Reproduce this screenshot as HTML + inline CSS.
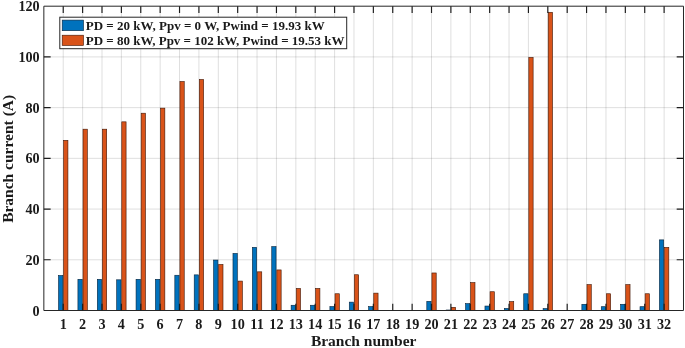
<!DOCTYPE html><html><head><meta charset="utf-8"><title>Branch current</title><style>html,body{margin:0;padding:0;background:#fff}svg{display:block}text{font-family:"Liberation Serif","Times New Roman",serif;font-weight:bold;fill:#1a1a1a}</style></head><body>
<svg width="685" height="348" viewBox="0 0 685 348">
<rect width="685" height="348" fill="#fff"/>
<path d="M63.23 6.20V310.50M82.62 6.20V310.50M102.00 6.20V310.50M121.38 6.20V310.50M140.76 6.20V310.50M160.15 6.20V310.50M179.53 6.20V310.50M198.91 6.20V310.50M218.30 6.20V310.50M237.68 6.20V310.50M257.06 6.20V310.50M276.45 6.20V310.50M295.83 6.20V310.50M315.21 6.20V310.50M334.60 6.20V310.50M353.98 6.20V310.50M373.36 6.20V310.50M392.74 6.20V310.50M412.13 6.20V310.50M431.51 6.20V310.50M450.89 6.20V310.50M470.28 6.20V310.50M489.66 6.20V310.50M509.04 6.20V310.50M528.42 6.20V310.50M547.81 6.20V310.50M567.19 6.20V310.50M586.57 6.20V310.50M605.96 6.20V310.50M625.34 6.20V310.50M644.72 6.20V310.50M664.11 6.20V310.50" stroke="#262626" stroke-opacity="0.15" stroke-width="1" fill="none"/>
<path d="M43.85 259.78H683.49M43.85 209.07H683.49M43.85 158.35H683.49M43.85 107.64H683.49M43.85 56.92H683.49" stroke="#262626" stroke-opacity="0.15" stroke-width="1" fill="none"/>
<rect x="58.53" y="275.51" width="4.30" height="34.99" fill="#0072bd" stroke="#06223a" stroke-width="0.6"/>
<rect x="63.63" y="140.35" width="4.30" height="170.15" fill="#d95319" stroke="#3d1505" stroke-width="0.6"/>
<rect x="77.92" y="279.31" width="4.30" height="31.19" fill="#0072bd" stroke="#06223a" stroke-width="0.6"/>
<rect x="83.02" y="129.19" width="4.30" height="181.31" fill="#d95319" stroke="#3d1505" stroke-width="0.6"/>
<rect x="97.30" y="279.31" width="4.30" height="31.19" fill="#0072bd" stroke="#06223a" stroke-width="0.6"/>
<rect x="102.40" y="129.19" width="4.30" height="181.31" fill="#d95319" stroke="#3d1505" stroke-width="0.6"/>
<rect x="116.68" y="279.82" width="4.30" height="30.68" fill="#0072bd" stroke="#06223a" stroke-width="0.6"/>
<rect x="121.78" y="121.84" width="4.30" height="188.66" fill="#d95319" stroke="#3d1505" stroke-width="0.6"/>
<rect x="136.06" y="279.31" width="4.30" height="31.19" fill="#0072bd" stroke="#06223a" stroke-width="0.6"/>
<rect x="141.16" y="113.21" width="4.30" height="197.29" fill="#d95319" stroke="#3d1505" stroke-width="0.6"/>
<rect x="155.45" y="279.31" width="4.30" height="31.19" fill="#0072bd" stroke="#06223a" stroke-width="0.6"/>
<rect x="160.55" y="108.14" width="4.30" height="202.36" fill="#d95319" stroke="#3d1505" stroke-width="0.6"/>
<rect x="174.83" y="275.25" width="4.30" height="35.25" fill="#0072bd" stroke="#06223a" stroke-width="0.6"/>
<rect x="179.93" y="81.52" width="4.30" height="228.98" fill="#d95319" stroke="#3d1505" stroke-width="0.6"/>
<rect x="194.21" y="274.87" width="4.30" height="35.63" fill="#0072bd" stroke="#06223a" stroke-width="0.6"/>
<rect x="199.31" y="79.49" width="4.30" height="231.01" fill="#d95319" stroke="#3d1505" stroke-width="0.6"/>
<rect x="213.60" y="260.04" width="4.30" height="50.46" fill="#0072bd" stroke="#06223a" stroke-width="0.6"/>
<rect x="218.70" y="264.48" width="4.30" height="46.02" fill="#d95319" stroke="#3d1505" stroke-width="0.6"/>
<rect x="232.98" y="253.44" width="4.30" height="57.06" fill="#0072bd" stroke="#06223a" stroke-width="0.6"/>
<rect x="238.08" y="281.08" width="4.30" height="29.42" fill="#d95319" stroke="#3d1505" stroke-width="0.6"/>
<rect x="252.36" y="247.36" width="4.30" height="63.14" fill="#0072bd" stroke="#06223a" stroke-width="0.6"/>
<rect x="257.46" y="271.83" width="4.30" height="38.67" fill="#d95319" stroke="#3d1505" stroke-width="0.6"/>
<rect x="271.75" y="246.60" width="4.30" height="63.90" fill="#0072bd" stroke="#06223a" stroke-width="0.6"/>
<rect x="276.85" y="269.93" width="4.30" height="40.57" fill="#d95319" stroke="#3d1505" stroke-width="0.6"/>
<rect x="291.13" y="305.25" width="4.30" height="5.25" fill="#0072bd" stroke="#06223a" stroke-width="0.6"/>
<rect x="296.23" y="288.44" width="4.30" height="22.06" fill="#d95319" stroke="#3d1505" stroke-width="0.6"/>
<rect x="310.51" y="305.25" width="4.30" height="5.25" fill="#0072bd" stroke="#06223a" stroke-width="0.6"/>
<rect x="315.61" y="288.44" width="4.30" height="22.06" fill="#d95319" stroke="#3d1505" stroke-width="0.6"/>
<rect x="329.90" y="306.57" width="4.30" height="3.93" fill="#0072bd" stroke="#06223a" stroke-width="0.6"/>
<rect x="335.00" y="293.76" width="4.30" height="16.74" fill="#d95319" stroke="#3d1505" stroke-width="0.6"/>
<rect x="349.28" y="302.13" width="4.30" height="8.37" fill="#0072bd" stroke="#06223a" stroke-width="0.6"/>
<rect x="354.38" y="274.75" width="4.30" height="35.75" fill="#d95319" stroke="#3d1505" stroke-width="0.6"/>
<rect x="368.66" y="306.57" width="4.30" height="3.93" fill="#0072bd" stroke="#06223a" stroke-width="0.6"/>
<rect x="373.76" y="293.13" width="4.30" height="17.37" fill="#d95319" stroke="#3d1505" stroke-width="0.6"/>
<rect x="426.81" y="301.37" width="4.30" height="9.13" fill="#0072bd" stroke="#06223a" stroke-width="0.6"/>
<rect x="431.91" y="272.97" width="4.30" height="37.53" fill="#d95319" stroke="#3d1505" stroke-width="0.6"/>
<rect x="446.19" y="309.99" width="4.30" height="0.51" fill="#0072bd" stroke="#06223a" stroke-width="0.6"/>
<rect x="451.29" y="307.33" width="4.30" height="3.17" fill="#d95319" stroke="#3d1505" stroke-width="0.6"/>
<rect x="465.58" y="303.65" width="4.30" height="6.85" fill="#0072bd" stroke="#06223a" stroke-width="0.6"/>
<rect x="470.68" y="282.61" width="4.30" height="27.89" fill="#d95319" stroke="#3d1505" stroke-width="0.6"/>
<rect x="484.96" y="306.04" width="4.30" height="4.46" fill="#0072bd" stroke="#06223a" stroke-width="0.6"/>
<rect x="490.06" y="291.74" width="4.30" height="18.76" fill="#d95319" stroke="#3d1505" stroke-width="0.6"/>
<rect x="504.34" y="308.47" width="4.30" height="2.03" fill="#0072bd" stroke="#06223a" stroke-width="0.6"/>
<rect x="509.44" y="301.62" width="4.30" height="8.88" fill="#d95319" stroke="#3d1505" stroke-width="0.6"/>
<rect x="523.73" y="293.76" width="4.30" height="16.74" fill="#0072bd" stroke="#06223a" stroke-width="0.6"/>
<rect x="528.82" y="57.43" width="4.30" height="253.07" fill="#d95319" stroke="#3d1505" stroke-width="0.6"/>
<rect x="543.11" y="308.60" width="4.30" height="1.90" fill="#0072bd" stroke="#06223a" stroke-width="0.6"/>
<rect x="548.21" y="12.29" width="4.30" height="298.21" fill="#d95319" stroke="#3d1505" stroke-width="0.6"/>
<rect x="581.87" y="304.29" width="4.30" height="6.21" fill="#0072bd" stroke="#06223a" stroke-width="0.6"/>
<rect x="586.97" y="284.63" width="4.30" height="25.87" fill="#d95319" stroke="#3d1505" stroke-width="0.6"/>
<rect x="601.26" y="306.70" width="4.30" height="3.80" fill="#0072bd" stroke="#06223a" stroke-width="0.6"/>
<rect x="606.36" y="293.76" width="4.30" height="16.74" fill="#d95319" stroke="#3d1505" stroke-width="0.6"/>
<rect x="620.64" y="304.29" width="4.30" height="6.21" fill="#0072bd" stroke="#06223a" stroke-width="0.6"/>
<rect x="625.74" y="284.63" width="4.30" height="25.87" fill="#d95319" stroke="#3d1505" stroke-width="0.6"/>
<rect x="640.02" y="306.70" width="4.30" height="3.80" fill="#0072bd" stroke="#06223a" stroke-width="0.6"/>
<rect x="645.12" y="293.76" width="4.30" height="16.74" fill="#d95319" stroke="#3d1505" stroke-width="0.6"/>
<rect x="659.41" y="239.88" width="4.30" height="70.62" fill="#0072bd" stroke="#06223a" stroke-width="0.6"/>
<rect x="664.51" y="247.36" width="4.30" height="63.14" fill="#d95319" stroke="#3d1505" stroke-width="0.6"/>
<path d="M43.85 6.20H683.49V310.50H43.85Z" stroke="#262626" stroke-width="1" fill="none"/>
<path d="M63.23 310.50v-6.8M63.23 6.20v6.8M82.62 310.50v-6.8M82.62 6.20v6.8M102.00 310.50v-6.8M102.00 6.20v6.8M121.38 310.50v-6.8M121.38 6.20v6.8M140.76 310.50v-6.8M140.76 6.20v6.8M160.15 310.50v-6.8M160.15 6.20v6.8M179.53 310.50v-6.8M179.53 6.20v6.8M198.91 310.50v-6.8M198.91 6.20v6.8M218.30 310.50v-6.8M218.30 6.20v6.8M237.68 310.50v-6.8M237.68 6.20v6.8M257.06 310.50v-6.8M257.06 6.20v6.8M276.45 310.50v-6.8M276.45 6.20v6.8M295.83 310.50v-6.8M295.83 6.20v6.8M315.21 310.50v-6.8M315.21 6.20v6.8M334.60 310.50v-6.8M334.60 6.20v6.8M353.98 310.50v-6.8M353.98 6.20v6.8M373.36 310.50v-6.8M373.36 6.20v6.8M392.74 310.50v-6.8M392.74 6.20v6.8M412.13 310.50v-6.8M412.13 6.20v6.8M431.51 310.50v-6.8M431.51 6.20v6.8M450.89 310.50v-6.8M450.89 6.20v6.8M470.28 310.50v-6.8M470.28 6.20v6.8M489.66 310.50v-6.8M489.66 6.20v6.8M509.04 310.50v-6.8M509.04 6.20v6.8M528.42 310.50v-6.8M528.42 6.20v6.8M547.81 310.50v-6.8M547.81 6.20v6.8M567.19 310.50v-6.8M567.19 6.20v6.8M586.57 310.50v-6.8M586.57 6.20v6.8M605.96 310.50v-6.8M605.96 6.20v6.8M625.34 310.50v-6.8M625.34 6.20v6.8M644.72 310.50v-6.8M644.72 6.20v6.8M664.11 310.50v-6.8M664.11 6.20v6.8M43.85 259.78h6.8M683.49 259.78h-6.8M43.85 209.07h6.8M683.49 209.07h-6.8M43.85 158.35h6.8M683.49 158.35h-6.8M43.85 107.64h6.8M683.49 107.64h-6.8M43.85 56.92h6.8M683.49 56.92h-6.8" stroke="#1c1c1c" stroke-width="1.15" fill="none"/>
<text x="63.23" y="328.6" font-size="14.2" text-anchor="middle">1</text>
<text x="82.62" y="328.6" font-size="14.2" text-anchor="middle">2</text>
<text x="102.00" y="328.6" font-size="14.2" text-anchor="middle">3</text>
<text x="121.38" y="328.6" font-size="14.2" text-anchor="middle">4</text>
<text x="140.76" y="328.6" font-size="14.2" text-anchor="middle">5</text>
<text x="160.15" y="328.6" font-size="14.2" text-anchor="middle">6</text>
<text x="179.53" y="328.6" font-size="14.2" text-anchor="middle">7</text>
<text x="198.91" y="328.6" font-size="14.2" text-anchor="middle">8</text>
<text x="218.30" y="328.6" font-size="14.2" text-anchor="middle">9</text>
<text x="237.68" y="328.6" font-size="14.2" text-anchor="middle">10</text>
<text x="257.06" y="328.6" font-size="14.2" text-anchor="middle">11</text>
<text x="276.45" y="328.6" font-size="14.2" text-anchor="middle">12</text>
<text x="295.83" y="328.6" font-size="14.2" text-anchor="middle">13</text>
<text x="315.21" y="328.6" font-size="14.2" text-anchor="middle">14</text>
<text x="334.60" y="328.6" font-size="14.2" text-anchor="middle">15</text>
<text x="353.98" y="328.6" font-size="14.2" text-anchor="middle">16</text>
<text x="373.36" y="328.6" font-size="14.2" text-anchor="middle">17</text>
<text x="392.74" y="328.6" font-size="14.2" text-anchor="middle">18</text>
<text x="412.13" y="328.6" font-size="14.2" text-anchor="middle">19</text>
<text x="431.51" y="328.6" font-size="14.2" text-anchor="middle">20</text>
<text x="450.89" y="328.6" font-size="14.2" text-anchor="middle">21</text>
<text x="470.28" y="328.6" font-size="14.2" text-anchor="middle">22</text>
<text x="489.66" y="328.6" font-size="14.2" text-anchor="middle">23</text>
<text x="509.04" y="328.6" font-size="14.2" text-anchor="middle">24</text>
<text x="528.42" y="328.6" font-size="14.2" text-anchor="middle">25</text>
<text x="547.81" y="328.6" font-size="14.2" text-anchor="middle">26</text>
<text x="567.19" y="328.6" font-size="14.2" text-anchor="middle">27</text>
<text x="586.57" y="328.6" font-size="14.2" text-anchor="middle">28</text>
<text x="605.96" y="328.6" font-size="14.2" text-anchor="middle">29</text>
<text x="625.34" y="328.6" font-size="14.2" text-anchor="middle">30</text>
<text x="644.72" y="328.6" font-size="14.2" text-anchor="middle">31</text>
<text x="664.11" y="328.6" font-size="14.2" text-anchor="middle">32</text>
<text x="39.7" y="315.60" font-size="14.2" text-anchor="end">0</text>
<text x="39.7" y="264.88" font-size="14.2" text-anchor="end">20</text>
<text x="39.7" y="214.17" font-size="14.2" text-anchor="end">40</text>
<text x="39.7" y="163.45" font-size="14.2" text-anchor="end">60</text>
<text x="39.7" y="112.74" font-size="14.2" text-anchor="end">80</text>
<text x="39.7" y="62.02" font-size="14.2" text-anchor="end">100</text>
<text x="39.7" y="11.30" font-size="14.2" text-anchor="end">120</text>
<text x="363.67" y="346.4" font-size="15.5" text-anchor="middle">Branch number</text>
<text transform="translate(12.9 158.85) rotate(-90)" font-size="15.5" text-anchor="middle">Branch current (A)</text>
<rect x="59.8" y="17.2" width="286.9" height="31.5" fill="#fff" stroke="#262626" stroke-width="1"/>
<rect x="62.2" y="20.1" width="21.3" height="10.6" fill="#0072bd" stroke="#06223a" stroke-width="0.6"/>
<rect x="62.2" y="35.2" width="21.3" height="10.3" fill="#d95319" stroke="#3d1505" stroke-width="0.6"/>
<text x="85.7" y="29.9" font-size="13" textLength="239.1" lengthAdjust="spacing">PD = 20 kW, Ppv = 0 W, Pwind = 19.93 kW</text>
<text x="85.7" y="45.2" font-size="13" textLength="258.8" lengthAdjust="spacing">PD = 80 kW, Ppv = 102 kW, Pwind = 19.53 kW</text>
</svg></body></html>
